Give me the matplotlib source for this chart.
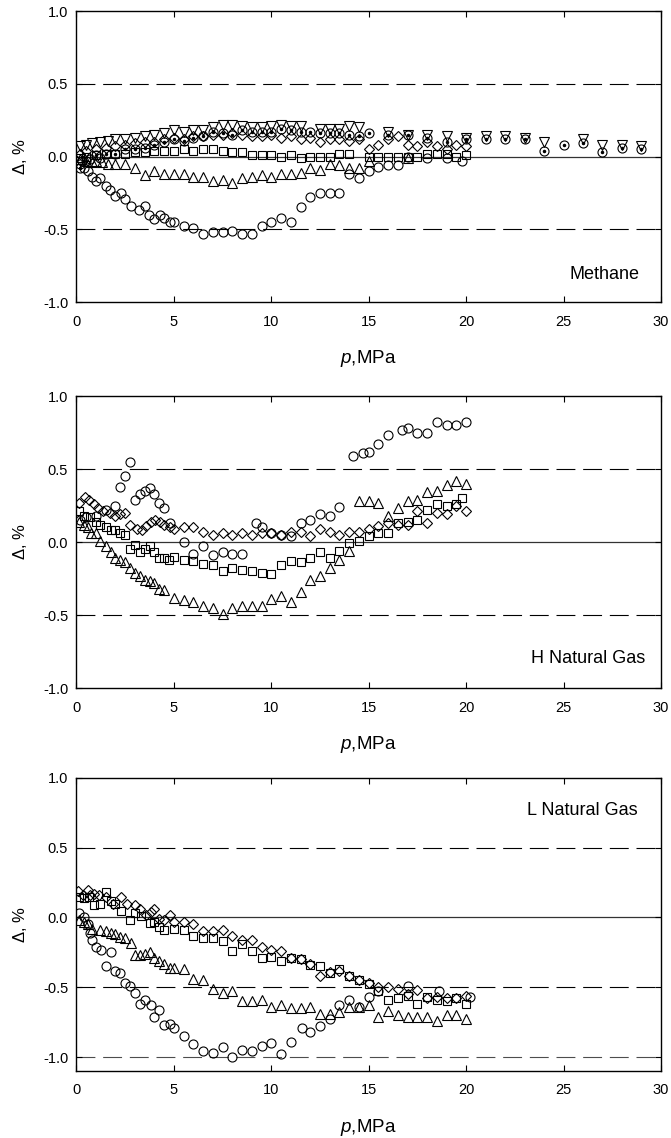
import matplotlib
matplotlib.use("Agg")
import matplotlib.pyplot as plt
import numpy as np

plt.rcParams['font.family'] = ['Liberation Sans', 'DejaVu Sans']
plt.rcParams['mathtext.fontset'] = 'custom'
plt.rcParams['mathtext.it'] = 'Liberation Sans:italic'
plt.rcParams['mathtext.rm'] = 'Liberation Sans'

# ---------------- Methane ----------------
m_circ_p = [0.2, 0.4, 0.6, 0.8, 1.0, 1.2, 1.5, 1.7, 2.0, 2.3, 2.5, 2.8, 3.2, 3.5, 3.7, 4.0, 4.3, 4.5,
            4.8, 5.0, 5.5, 6.0, 6.5, 7.0, 7.5, 8.0, 8.5, 9.0, 9.5, 10.0, 10.5, 11.0, 11.5, 12.0, 12.5, 13.0, 13.5]
m_circ_d = [-0.05, -0.08, -0.10, -0.14, -0.17, -0.15, -0.20, -0.23, -0.27, -0.25, -0.29, -0.34, -0.37, -0.34,
            -0.40, -0.43, -0.40, -0.42, -0.45, -0.45, -0.48, -0.49, -0.53, -0.52, -0.52, -0.51, -0.53, -0.53,
            -0.48, -0.45, -0.42, -0.45, -0.35, -0.28, -0.25, -0.25, -0.25]
m_circ2_p = [0.3, 0.7, 1.2, 14.0, 14.5, 15.0, 15.5, 16.0, 16.5, 17.0, 18.0, 19.0, 19.8]
m_circ2_d = [-0.03, -0.02, -0.01, -0.12, -0.15, -0.10, -0.07, -0.06, -0.06, 0.0, -0.01, -0.01, -0.03]
m_tri_p = [0.2, 0.5, 0.8, 1.0, 1.3, 1.6, 2.0, 2.5, 3.0, 3.5, 4.0, 4.5, 5.0, 5.5, 6.0, 6.5, 7.0, 7.5, 8.0,
           8.5, 9.0, 9.5, 10.0, 10.5, 11.0, 11.5, 12.0, 12.5, 13.0, 13.5, 14.0, 14.5, 15.0, 17.0]
m_tri_d = [-0.02, -0.03, -0.04, -0.03, -0.04, -0.05, -0.05, -0.05, -0.08, -0.13, -0.10, -0.12, -0.12,
           -0.12, -0.14, -0.14, -0.17, -0.16, -0.18, -0.15, -0.14, -0.13, -0.14, -0.12, -0.12, -0.11,
           -0.08, -0.09, -0.05, -0.06, -0.08, -0.08, -0.03, -0.01]
m_sq_p = [0.2, 0.5, 1.0, 1.5, 2.0, 2.5, 3.0, 3.5, 4.0, 4.5, 5.0, 5.5, 6.0, 6.5, 7.0, 7.5, 8.0, 8.5, 9.0,
          9.5, 10.0, 10.5, 11.0, 11.5, 12.0, 12.5, 13.0, 13.5, 14.0, 15.0, 15.5, 16.0, 16.5, 17.0, 17.5,
          18.0, 18.5, 19.0, 19.5, 20.0]
m_sq_d = [-0.01, 0.0, 0.01, 0.02, 0.02, 0.02, 0.03, 0.03, 0.04, 0.04, 0.04, 0.05, 0.04, 0.05, 0.05, 0.04,
          0.03, 0.03, 0.01, 0.01, 0.01, 0.0, 0.01, -0.01, 0.0, 0.0, 0.0, 0.02, 0.02, 0.0, 0.0, 0.0, 0.0,
          0.0, 0.0, 0.02, 0.02, 0.02, 0.0, 0.01]
m_dia_p = [0.2, 0.5, 1.0, 1.5, 2.0, 2.5, 3.0, 3.5, 4.0, 4.5, 5.0, 5.5, 6.0, 6.5, 7.0, 7.5, 8.0, 8.5, 9.0,
           9.5, 10.0, 10.5, 11.0, 11.5, 12.0, 12.5, 13.0, 13.5, 14.0, 14.5, 15.0, 15.5, 16.0, 16.5, 17.0,
           17.5, 18.0, 18.5, 19.0, 19.5, 20.0]
m_dia_d = [0.02, 0.04, 0.05, 0.06, 0.07, 0.08, 0.09, 0.10, 0.10, 0.12, 0.13, 0.12, 0.14, 0.14, 0.15, 0.15,
           0.16, 0.15, 0.14, 0.14, 0.15, 0.13, 0.14, 0.12, 0.13, 0.10, 0.12, 0.12, 0.11, 0.12, 0.05, 0.08,
           0.12, 0.14, 0.08, 0.07, 0.10, 0.07, 0.05, 0.08, 0.07]
m_dtri_p = [0.2, 0.5, 0.8, 1.2, 1.6, 2.0, 2.5, 3.0, 3.5, 4.0, 4.5, 5.0, 5.5, 6.0, 6.5, 7.0, 7.5, 8.0, 8.5,
            9.0, 9.5, 10.0, 10.5, 11.0, 11.5, 12.5, 13.0, 13.5, 14.0, 14.5, 16.0, 17.0, 18.0, 19.0, 20.0,
            21.0, 22.0, 23.0, 24.0, 26.0, 27.0, 28.0, 29.0]
m_dtri_d = [0.07, 0.08, 0.09, 0.10, 0.11, 0.12, 0.12, 0.13, 0.14, 0.15, 0.16, 0.18, 0.17, 0.18, 0.18, 0.20,
            0.22, 0.22, 0.21, 0.20, 0.20, 0.21, 0.22, 0.21, 0.21, 0.19, 0.19, 0.19, 0.21, 0.20, 0.17, 0.15,
            0.15, 0.14, 0.13, 0.14, 0.14, 0.13, 0.10, 0.12, 0.08, 0.08, 0.07]
m_dot_p = [0.2, 0.5, 1.0, 1.5, 2.0, 2.5, 3.0, 3.5, 4.0, 4.5, 5.0, 5.5, 6.0, 6.5, 7.0, 7.5, 8.0, 8.5, 9.0,
           9.5, 10.0, 10.5, 11.0, 11.5, 12.0, 12.5, 13.0, 13.5, 14.0, 14.5, 15.0, 16.0, 17.0, 18.0, 19.0,
           20.0, 21.0, 22.0, 23.0, 24.0, 25.0, 26.0, 27.0, 28.0, 29.0]
m_dot_d = [-0.08, -0.03, 0.01, 0.02, 0.02, 0.05, 0.05, 0.06, 0.08, 0.10, 0.12, 0.11, 0.13, 0.14, 0.17, 0.16,
           0.15, 0.18, 0.17, 0.17, 0.17, 0.19, 0.18, 0.17, 0.17, 0.16, 0.16, 0.16, 0.15, 0.14, 0.16, 0.15,
           0.15, 0.13, 0.10, 0.12, 0.12, 0.12, 0.12, 0.04, 0.08, 0.09, 0.03, 0.06, 0.05]

# ---------------- H natural gas ----------------
h_circ_p = [0.2, 0.5, 1.0, 1.5, 2.0, 2.25, 2.5, 2.75, 3.0, 3.25, 3.5, 3.75, 4.0, 4.25, 4.5, 4.8, 5.5, 6.0,
            6.5, 7.0, 7.5, 8.0, 8.5, 9.2, 9.5, 10.0, 10.5, 11.0, 11.5, 12.0, 12.5, 13.0, 13.5, 14.2, 14.7,
            15.0, 15.5, 16.0, 16.7, 17.0, 17.5, 18.0, 18.5, 19.0, 19.5, 20.0]
h_circ_d = [0.15, 0.17, 0.18, 0.22, 0.25, 0.38, 0.45, 0.55, 0.29, 0.33, 0.35, 0.37, 0.33, 0.27, 0.23, 0.13,
            0.0, -0.08, -0.03, -0.09, -0.07, -0.08, -0.08, 0.13, 0.10, 0.06, 0.05, 0.04, 0.13, 0.15, 0.19,
            0.18, 0.24, 0.59, 0.61, 0.62, 0.67, 0.73, 0.77, 0.78, 0.75, 0.75, 0.82, 0.80, 0.80, 0.82]
h_tri_p = [0.15, 0.4, 0.6, 0.75, 1.0, 1.2, 1.5, 1.75, 2.0, 2.25, 2.5, 2.75, 3.0, 3.25, 3.5, 3.75, 4.0,
           4.25, 4.5, 5.0, 5.5, 6.0, 6.5, 7.0, 7.5, 8.0, 8.5, 9.0, 9.5, 10.0, 10.5, 11.0, 11.5, 12.0,
           12.5, 13.0, 13.5, 14.0, 14.5, 15.0, 15.5, 16.0, 16.5, 17.0, 17.5, 18.0, 18.5, 19.0, 19.5, 20.0]
h_tri_d = [0.14, 0.12, 0.10, 0.06, 0.06, 0.01, -0.03, -0.07, -0.11, -0.12, -0.14, -0.18, -0.21, -0.23,
           -0.26, -0.27, -0.28, -0.32, -0.33, -0.38, -0.40, -0.41, -0.44, -0.45, -0.49, -0.45, -0.44, -0.44,
           -0.44, -0.39, -0.37, -0.41, -0.34, -0.26, -0.23, -0.18, -0.12, -0.06, 0.28, 0.28, 0.27, 0.18,
           0.23, 0.28, 0.29, 0.34, 0.35, 0.39, 0.42, 0.40]
h_sq_p = [0.15, 0.4, 0.7, 1.0, 1.2, 1.5, 1.75, 2.0, 2.25, 2.5, 2.75, 3.0, 3.25, 3.5, 3.75, 4.0, 4.25, 4.5,
          4.75, 5.0, 5.5, 6.0, 6.5, 7.0, 7.5, 8.0, 8.5, 9.0, 9.5, 10.0, 10.5, 11.0, 11.5, 12.0, 12.5, 13.0,
          13.5, 14.0, 14.5, 15.0, 15.5, 16.0, 16.5, 17.0, 17.5, 18.0, 18.5, 19.0, 19.5, 19.8]
h_sq_d = [0.21, 0.18, 0.17, 0.14, 0.12, 0.10, 0.08, 0.08, 0.06, 0.05, -0.05, -0.02, -0.07, -0.05, -0.03,
          -0.07, -0.11, -0.11, -0.12, -0.10, -0.12, -0.13, -0.15, -0.16, -0.20, -0.18, -0.19, -0.20, -0.21,
          -0.22, -0.16, -0.13, -0.14, -0.11, -0.07, -0.11, -0.06, -0.01, 0.01, 0.04, 0.06, 0.06, 0.13,
          0.14, 0.15, 0.22, 0.26, 0.25, 0.26, 0.30]
h_dia_p = [0.15, 0.45, 0.65, 0.9, 1.1, 1.35, 1.7, 2.0, 2.25, 2.5, 2.75, 3.1, 3.35, 3.55, 3.8, 4.05, 4.3,
           4.5, 4.8, 5.0, 5.5, 6.0, 6.5, 7.0, 7.5, 8.0, 8.5, 9.0, 9.5, 10.0, 10.5, 11.0, 11.5, 12.0, 12.5,
           13.0, 13.5, 14.0, 14.5, 15.0, 15.5, 16.0, 16.5, 17.0, 17.5, 18.0, 18.5, 19.0, 19.5, 20.0]
h_dia_d = [0.27, 0.31, 0.29, 0.26, 0.23, 0.21, 0.20, 0.18, 0.19, 0.20, 0.12, 0.09, 0.08, 0.11, 0.14, 0.15,
           0.14, 0.12, 0.10, 0.09, 0.10, 0.10, 0.07, 0.05, 0.06, 0.05, 0.06, 0.05, 0.06, 0.06, 0.05, 0.07,
           0.07, 0.04, 0.09, 0.07, 0.05, 0.07, 0.07, 0.09, 0.11, 0.13, 0.12, 0.12, 0.21, 0.13, 0.20, 0.19,
           0.25, 0.21]

# ---------------- L natural gas ----------------
l_circ_p = [0.15, 0.4, 0.6, 0.7, 0.8, 1.0, 1.25, 1.5, 1.75, 2.0, 2.25, 2.5, 2.75, 3.0, 3.25, 3.5, 3.8, 4.0,
            4.25, 4.5, 4.8, 5.0, 5.5, 6.0, 6.5, 7.0, 7.5, 8.0, 8.5, 9.0, 9.5, 10.0, 10.5, 11.0, 11.6, 12.0,
            12.5, 13.0, 13.5, 14.0, 14.5, 15.0, 15.5, 17.0, 18.6, 20.2]
l_circ_d = [0.03, 0.0, -0.05, -0.11, -0.16, -0.21, -0.23, -0.35, -0.25, -0.38, -0.40, -0.47, -0.49, -0.54,
            -0.62, -0.59, -0.63, -0.71, -0.66, -0.77, -0.76, -0.79, -0.85, -0.91, -0.96, -0.97, -0.93, -1.0,
            -0.95, -0.96, -0.92, -0.90, -0.98, -0.89, -0.79, -0.82, -0.78, -0.73, -0.63, -0.59, -0.64, -0.57,
            -0.53, -0.49, -0.53, -0.57]
l_tri_p = [0.15, 0.4, 0.6, 0.8, 1.2, 1.5, 1.75, 2.0, 2.25, 2.5, 2.8, 3.0, 3.25, 3.5, 3.75, 4.0, 4.25, 4.5,
           4.8, 5.0, 5.5, 6.0, 6.5, 7.0, 7.5, 8.0, 8.5, 9.0, 9.5, 10.0, 10.5, 11.0, 11.5, 12.0, 12.5, 13.0,
           13.5, 14.0, 14.5, 15.0, 15.5, 16.0, 16.5, 17.0, 17.5, 18.0, 18.5, 19.0, 19.5, 20.0]
l_tri_d = [-0.02, -0.03, -0.05, -0.08, -0.09, -0.10, -0.11, -0.12, -0.14, -0.15, -0.18, -0.27, -0.27,
           -0.26, -0.25, -0.29, -0.31, -0.33, -0.36, -0.36, -0.37, -0.44, -0.45, -0.51, -0.54, -0.53, -0.60,
           -0.60, -0.59, -0.64, -0.63, -0.65, -0.65, -0.64, -0.69, -0.69, -0.68, -0.64, -0.64, -0.63, -0.71,
           -0.67, -0.70, -0.71, -0.71, -0.71, -0.74, -0.70, -0.70, -0.73]
l_sq_p = [0.15, 0.4, 0.65, 0.9, 1.2, 1.5, 1.75, 2.0, 2.3, 2.75, 3.0, 3.3, 3.75, 4.0, 4.25, 4.5, 5.0, 5.5,
          6.0, 6.5, 7.0, 7.5, 8.0, 8.5, 9.0, 9.5, 10.0, 10.5, 11.0, 11.5, 12.0, 12.5, 13.0, 13.5, 14.0,
          14.5, 15.0, 15.5, 16.0, 16.5, 17.0, 17.5, 18.0, 18.5, 19.0, 19.5, 20.0]
l_sq_d = [0.15, 0.14, 0.15, 0.09, 0.10, 0.18, 0.12, 0.10, 0.05, -0.02, 0.03, 0.01, -0.04, -0.03, -0.07,
          -0.09, -0.08, -0.09, -0.13, -0.15, -0.15, -0.17, -0.24, -0.19, -0.24, -0.29, -0.28, -0.31, -0.29,
          -0.30, -0.34, -0.35, -0.40, -0.37, -0.42, -0.45, -0.48, -0.53, -0.59, -0.58, -0.56, -0.62, -0.57,
          -0.59, -0.60, -0.58, -0.62]
l_dia_p = [0.1, 0.35, 0.6, 0.7, 0.9, 1.15, 1.5, 1.85, 2.3, 2.6, 3.0, 3.25, 3.55, 3.8, 4.0, 4.25, 4.5, 4.8,
           5.0, 5.5, 6.0, 6.5, 7.0, 7.5, 8.0, 8.5, 9.0, 9.5, 10.0, 10.5, 11.0, 11.5, 12.0, 12.5, 13.0, 13.5,
           14.0, 14.5, 15.0, 15.5, 16.0, 16.5, 17.0, 17.5, 18.0, 18.5, 19.0, 19.5, 20.0]
l_dia_d = [0.19, 0.16, 0.20, 0.16, 0.17, 0.16, 0.15, 0.10, 0.15, 0.10, 0.09, 0.06, 0.02, 0.04, 0.06, -0.01,
           -0.02, 0.02, -0.03, -0.03, -0.05, -0.10, -0.10, -0.09, -0.13, -0.16, -0.16, -0.21, -0.23, -0.24,
           -0.29, -0.30, -0.33, -0.42, -0.39, -0.38, -0.42, -0.45, -0.47, -0.50, -0.50, -0.51, -0.55, -0.52,
           -0.58, -0.57, -0.58, -0.58, -0.56]

panel_names = ["Methane", "H Natural Gas", "L Natural Gas"]

fig = plt.figure(figsize=(6.71, 11.38), dpi=100)
left, width = 0.114, 0.871
boxes = [(left, 0.7346, width, 0.2557), (left, 0.3954, width, 0.2566), (left, 0.0589, width, 0.2575)]
axes = [fig.add_axes(b) for b in boxes]

ms_kw = dict(linestyle='none', markerfacecolor='none', markeredgecolor='black', markeredgewidth=0.8)


def pts(ax, p, d, marker, size):
    ax.plot(p, d, marker=marker, markersize=size, **ms_kw)


# methane
ax = axes[0]
pts(ax, m_circ_p, m_circ_d, 'o', 6.5)
pts(ax, m_circ2_p, m_circ2_d, 'o', 6.5)
pts(ax, m_tri_p, m_tri_d, '^', 7)
pts(ax, m_sq_p, m_sq_d, 's', 5.5)
pts(ax, m_dia_p, m_dia_d, 'D', 5)
pts(ax, m_dtri_p, m_dtri_d, 'v', 7)
pts(ax, m_dot_p, m_dot_d, 'o', 6.5)
ax.plot(m_dot_p, m_dot_d, linestyle='none', marker='o', markersize=1.5, color='black')

# H gas
ax = axes[1]
pts(ax, h_circ_p, h_circ_d, 'o', 6.5)
pts(ax, h_tri_p, h_tri_d, '^', 7)
pts(ax, h_sq_p, h_sq_d, 's', 5.5)
pts(ax, h_dia_p, h_dia_d, 'D', 5)

# L gas
ax = axes[2]
pts(ax, l_circ_p, l_circ_d, 'o', 6.5)
pts(ax, l_tri_p, l_tri_d, '^', 7)
pts(ax, l_sq_p, l_sq_d, 's', 5.5)
pts(ax, l_dia_p, l_dia_d, 'D', 5)

label_pos = [(28.9, -0.81), (29.2, -0.80), (28.8, 0.77)]
dash = (0, (17, 7))
for i, ax in enumerate(axes):
    ax.set_xlim(0, 30)
    if i == 2:
        ax.set_ylim(-1.1, 1.0)
        ax.axhline(-1.0, color='0.3', lw=0.8, linestyle=dash, zorder=0)
    else:
        ax.set_ylim(-1.0, 1.0)
    ax.axhline(0.5, color='black', lw=0.8, linestyle=dash, zorder=0)
    ax.axhline(-0.5, color='black', lw=0.8, linestyle=dash, zorder=0)
    ax.axhline(0.0, color='0.2', lw=0.9, zorder=0)
    ax.set_xticks(np.arange(0, 31, 5))
    ax.set_yticks([-1.0, -0.5, 0.0, 0.5, 1.0])
    ax.set_yticklabels(['-1.0', '-0.5', '0.0', '0.5', '1.0'])
    ax.tick_params(direction='in', top=True, right=True, length=4, width=0.8, labelsize=10.5)
    ax.tick_params(axis='x', pad=9)
    ax.tick_params(axis='y', pad=6)
    for s in ax.spines.values():
        s.set_linewidth(1.0)
    ax.set_xlabel(r'$p$,MPa', fontsize=13.5, labelpad=14)
    ax.set_ylabel(r'$\mathit{\Delta}$, %', fontsize=12, labelpad=10)
    ax.text(label_pos[i][0], label_pos[i][1], panel_names[i], ha='right', va='center', fontsize=13)

fig.savefig("out.png", dpi=100)
